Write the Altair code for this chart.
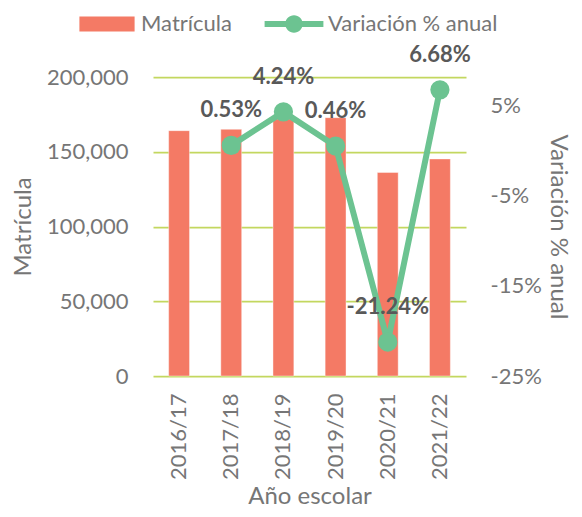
import altair as alt
import pandas as pd

# ---- data ----
years = ["2016/17", "2017/18", "2018/19", "2019/20", "2020/21", "2021/22"]
matricula = [164100, 165000, 172000, 172800, 136100, 145200]
variacion = [None, 0.53, 4.24, 0.46, -21.24, 6.68]
series = ["Matrícula", "Variación % anual"]
left_ticks = [0, 50000, 100000, 150000, 200000]
right_ticks = [-25, -15, -5, 5]

BAR = "#F47A65"
LINE = "#6CC391"
GRID = "#C3D75F"
AXIS_TXT = "#767676"
LABEL_TXT = "#595959"
FONT = "Lato"

df = pd.DataFrame({"year": years, "matricula": matricula, "variacion": variacion})
df["serie"] = series[0]
dfl = df.dropna(subset=["variacion"]).copy()

# legend symbol paths (unit = sqrt(symbolSize)/2 px)
RECT_PATH = "M-0.92,-0.25L0.92,-0.25L0.92,0.25L-0.92,0.25Z"
LINE_PATH = ("M-0.98,-0.1L0.98,-0.1L0.98,0.1L-0.98,0.1Z "
             "M-0.29,0A0.29,0.29 0 1,1 0.29,0A0.29,0.29 0 1,1 -0.29,0Z")

color_scale = alt.Scale(domain=series, range=[BAR, LINE])
shape_scale = alt.Scale(domain=series, range=[RECT_PATH, LINE_PATH])
legend = alt.Legend(
    title=None, orient="none", direction="horizontal",
    legendX=-76, legendY=-83, symbolSize=3600, symbolStrokeWidth=0,
    symbolOpacity=1, labelFontSize=22, labelColor=AXIS_TXT, labelFont=FONT,
    labelOffset=4, columnPadding=32, padding=0, labelLimit=0,
)

x = alt.X(
    "year:N", sort=years, title="Año escolar",
    scale=alt.Scale(paddingInner=0.6, paddingOuter=0.3),
    axis=alt.Axis(labelAngle=-90, labelPadding=17, ticks=False, domain=False,
                  titlePadding=5, labelBaseline="middle", labelAlign="right"),
)

bars = alt.Chart(df).mark_bar(stroke="white", strokeOpacity=0.4, strokeWidth=1).encode(
    x=x,
    y=alt.Y("matricula:Q", title="Matrícula",
            scale=alt.Scale(domain=[0, 200000], nice=False),
            axis=alt.Axis(values=left_ticks, format=",d", grid=True, gridColor=GRID,
                          gridWidth=1.75, ticks=False, domain=False,
                          labelPadding=25, titlePadding=11)),
    color=alt.Color("serie:N", scale=color_scale, legend=legend),
)

yr = alt.Y("variacion:Q", title="Variación % anual",
           scale=alt.Scale(domain=[-25, 8.1], nice=False, zero=False),
           axis=alt.Axis(orient="right", values=right_ticks, labelExpr="datum.value + '%'",
                         grid=False, ticks=False, domain=False,
                         labelPadding=24, titlePadding=4))

line = alt.Chart(dfl).mark_line(color=LINE, strokeWidth=6).encode(x=x, y=yr)
points = alt.Chart(dfl).mark_point(filled=True, color=LINE, size=370, opacity=1).encode(x=x, y=yr)
labels = alt.Chart(dfl).transform_calculate(
    lbl="replace(format(datum.variacion, '.2f'), '\u2212', '-') + '%'"
).mark_text(font=FONT, fontSize=22, fontWeight="bold", color=LABEL_TXT,
            dy=-35, baseline="middle").encode(x=x, y=yr, text="lbl:N")
dummy = alt.Chart(df).transform_filter("false").mark_point(filled=True).encode(
    x=x,
    color=alt.Color("serie:N", scale=color_scale, legend=legend),
    shape=alt.Shape("serie:N", scale=shape_scale, legend=legend),
)

right = alt.layer(line, points, labels, dummy)

chart = alt.layer(bars, right).resolve_scale(y="independent").properties(
    width=313, height=299,
    autosize=alt.AutoSizeParams(type="none"),
    padding={"left": 145, "top": 69, "right": 108, "bottom": 132},
).configure_view(stroke=None).configure_axis(
    labelFont=FONT, titleFont=FONT, labelFontSize=22, titleFontSize=24,
    labelColor=AXIS_TXT, titleColor=AXIS_TXT, titleFontWeight="normal",
)

chart.save("out.html", embed_options={"renderer": "svg", "actions": False})
